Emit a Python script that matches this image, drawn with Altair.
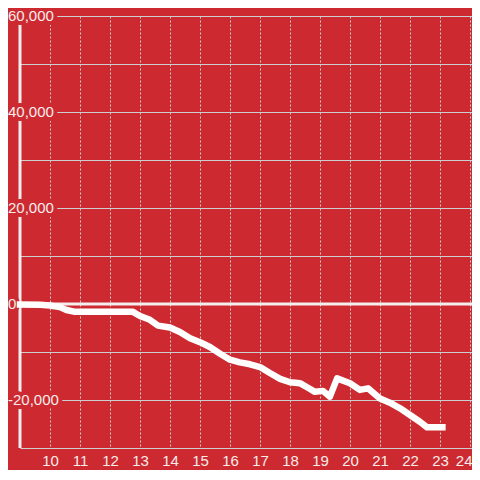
import altair as alt
import pandas as pd

# ---- data ----
hours = [9.0, 9.67, 10.0, 10.33, 10.55, 10.8, 12.0, 12.75, 13.0, 13.33, 13.6, 14.0,
         14.33, 14.67, 15.0, 15.33, 15.67, 16.0, 16.33, 16.67, 17.0, 17.33, 17.67,
         18.0, 18.33, 18.67, 18.83, 19.1, 19.33, 19.57, 20.0, 20.33, 20.6, 20.93,
         21.0, 21.33, 21.67, 22.0, 22.33, 22.57, 23.08]
values = [-100, -150, -300, -650, -1250, -1600, -1600, -1600, -2500, -3300, -4500, -4900,
          -5830, -7150, -7950, -8960, -10350, -11600, -12150, -12560, -13130, -14380, -15600,
          -16300, -16500, -17700, -18300, -18100, -19300, -15500, -16500, -17900, -17570, -19300,
          -19700, -20560, -21730, -23125, -24520, -25700, -25700]

x_ticks = list(range(10, 25))
y_grid = [-30000, -20000, -10000, 0, 10000, 20000, 30000, 40000, 50000, 60000]
y_label_values = [60000, 40000, 20000, 0, -20000]
y_label_texts = ["60,000", "40,000", "20,000", "0", "-20,000"]

BG = "#cc2a30"
GRID = "#cfcfcf"
LABEL = "#f7ecec"
FONT = "Liberation Sans"

xs = alt.Scale(domain=[9, 24.067], nice=False, zero=False)
ys = alt.Scale(domain=[-30000, 60000], nice=False, zero=False)

xaxis = alt.Axis(values=x_ticks, grid=True, gridColor=GRID, gridDash=[2, 2], gridWidth=1,
                 domain=False, ticks=False, labelFontSize=15, labelFont=FONT,
                 labelColor=LABEL, labelPadding=5, format="d", title=None,
                 labelFlush=False, labelOverlap=False,
                 labelAlign={"expr": "datum.value == 24 ? 'right' : 'center'"},
                 labelOffset={"expr": "datum.value == 24 ? 2 : 0"})
yaxis = alt.Axis(values=y_grid, grid=True, gridColor=GRID, gridWidth=1, domain=False,
                 ticks=False, labels=False, title=None)

line_df = pd.DataFrame({"h": hours, "v": values})
axis_df = pd.DataFrame({"h": [9], "v": [-30000], "v2": [60000]})
zero_df = pd.DataFrame({"v": [0]})
lab_df = pd.DataFrame({"v": y_label_values, "t": y_label_texts})

axis_rule = alt.Chart(axis_df).mark_rule(color="#f4eeee", strokeWidth=3).encode(
    x=alt.X("h:Q", scale=xs, axis=xaxis),
    y=alt.Y("v:Q", scale=ys, axis=yaxis),
    y2="v2:Q",
)

mask = alt.Chart(lab_df).mark_text(
    align="left", baseline="middle", fontSize=15, font=FONT,
    color=BG, stroke=BG, strokeWidth=8, strokeJoin="round"
).encode(
    x=alt.value(-12),
    y=alt.Y("v:Q", scale=ys, axis=yaxis),
    text="t:N",
)

labels = alt.Chart(lab_df).mark_text(
    align="left", baseline="middle", fontSize=15, font=FONT, color=LABEL
).encode(
    x=alt.value(-12),
    y=alt.Y("v:Q", scale=ys, axis=yaxis),
    text="t:N",
)

zero_rule = alt.Chart(zero_df).mark_rule(color="#f4eeee", strokeWidth=3).encode(
    y=alt.Y("v:Q", scale=ys, axis=yaxis),
)

line = alt.Chart(line_df).mark_line(
    color="white", strokeWidth=6.5, strokeCap="square", strokeJoin="round"
).encode(
    x=alt.X("h:Q", scale=xs, axis=xaxis),
    y=alt.Y("v:Q", scale=ys, axis=yaxis),
)

chart = alt.layer(axis_rule, mask, labels, zero_rule, line).properties(
    width=452, height=432,
    padding={"left": 12, "top": 8, "right": 0, "bottom": 22},
    autosize=alt.AutoSizeParams(type="none"),
    background=BG,
).configure_view(stroke=None)

chart.save("out.html", embed_options={"renderer": "svg", "actions": False})
